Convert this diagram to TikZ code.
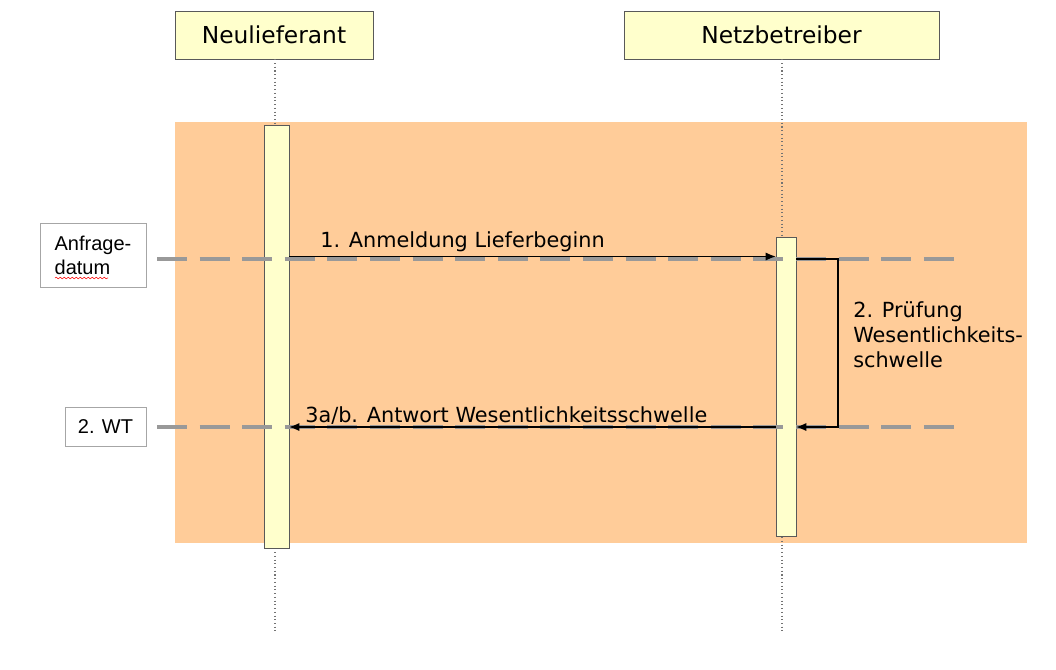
\documentclass[tikz,border=0pt]{standalone}
\usepackage{fontspec}
\setmainfont{DejaVu Sans}
\newfontfamily\datefont{Liberation Sans}
\usepackage{xcolor}
\usetikzlibrary{arrows.meta,positioning,decorations.pathmorphing}
\definecolor{phaseorange}{RGB}{255,204,153}
\definecolor{lifeyellow}{RGB}{255,255,204}
\definecolor{dategray}{RGB}{153,153,153}

\begin{document}
\begin{tikzpicture}[x=0.75pt, y=-0.75pt,
      every node/.style={font=\fontsize{15.6}{18.75}\selectfont},
      actor/.style={draw=black!65, fill=lifeyellow, minimum height=36pt, inner sep=0pt,
                    font=\fontsize{17.5}{20}\selectfont},
      bar/.style={draw=black!65, fill=lifeyellow, inner sep=0pt},
      lifeline/.style={black!55, dotted, line width=0.8pt},
      dateline/.style={dategray, line width=3pt, dash pattern=on 22.5pt off 9.45pt},
      datebox/.style={draw=black!35, fill=white, inner sep=0pt, align=left,
                      font=\datefont\fontsize{15}{18}\selectfont},
      msg/.style={-{Latex[length=7.5pt,width=6pt]}, line width=0.8pt},
      msglabel/.style={inner sep=0pt, align=left},
    ]
    \useasboundingbox (0,0) rectangle (1056,669);
    \fill[white] (0,0) rectangle (1056,669);

    % --- phase ---
    \fill[phaseorange] (175,122) rectangle (1027,543);

    % --- actors and lifelines ---
    \node[actor, minimum width=148.5pt] (nl) at (274,35) {Neulieferant};
    \node[actor, minimum width=236pt] (nb) at (781.5,35) {Netzbetreiber};
    \coordinate (nlend) at (275,631);
    \coordinate (nbend) at (782,631);
    \draw[lifeline] (nlend |- nl.south) -- (nlend);
    \draw[lifeline] (nbend |- nb.south) -- (nbend);

    \node[bar, minimum width=18.75pt, minimum height=317.25pt] (nlbar) at (276.5,336.5) {};
    \node[bar, minimum width=15pt, minimum height=224.25pt] (nbbar) at (786,386.5) {};

    % --- dates ---
    \node[datebox, minimum width=79.5pt, minimum height=48pt] (anfrage) at (93,255) {Anfrage-\\datum};
    \draw[red, decorate, decoration={snake, amplitude=0.6pt, segment length=3pt}]
      (55,278) -- (108,278);
    \node[datebox, minimum width=60.75pt, minimum height=29.25pt] (wt) at (105.5,426.5) {2. WT};

    \coordinate (d1w) at (157,259);
    \coordinate (d1e) at (954,259);
    \coordinate (d2w) at (157,426.5);
    \coordinate (d2e) at (954,426.5);
    \draw[dateline] (d1w) -- (d1e);
    \draw[dateline] (d2w) -- (d2e);

    % --- messages ---
    \coordinate (m1) at (0,256.5);
    \coordinate (m2) at (838,259);
    \coordinate (m3) at (0,427);

    \draw[msg] (nlbar.east |- m1) -- (nbbar.west |- m1);
    \node[msglabel, anchor=base west] (m1lbl) at (320,247) {1. Anmeldung Lieferbeginn};

    \draw[msg] (nbbar.east |- m2) -- (m2) -- (m2 |- m3) -- (nbbar.east |- m3);
    \node[msglabel, anchor=north west] (m2lbl) at (853,301) {2. Prüfung\\Wesentlichkeits-\\schwelle};

    \draw[msg] (nbbar.west |- m3) -- (nlbar.east |- m3);
    \node[msglabel, anchor=base west] (m3lbl) at (305,422) {3a/b. Antwort Wesentlichkeitsschwelle};
  \end{tikzpicture}
\end{document}
